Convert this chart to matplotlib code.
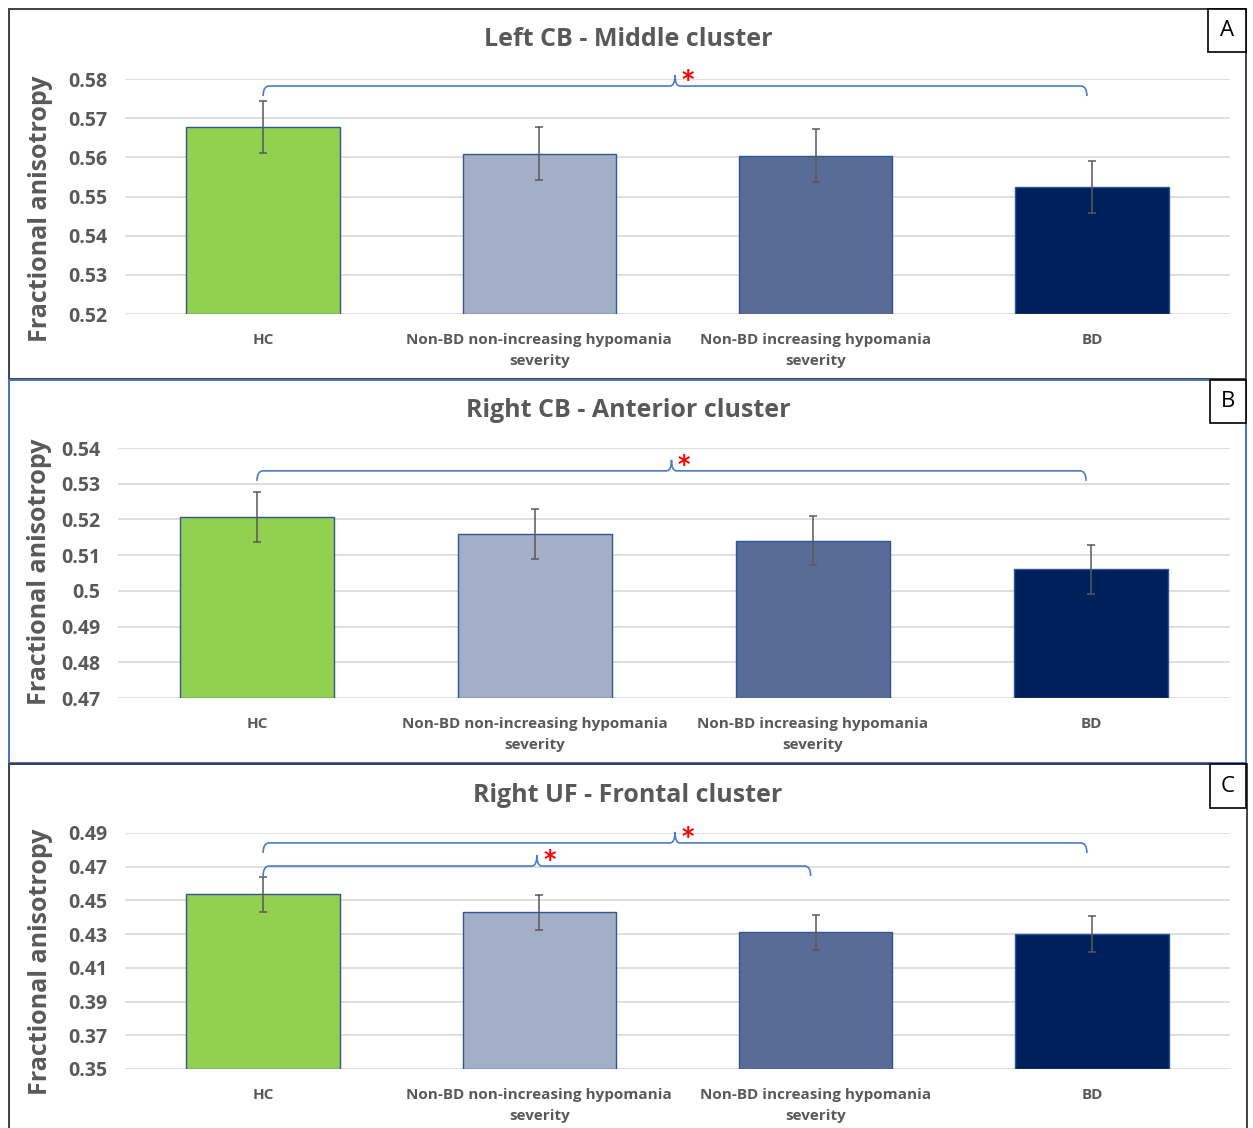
import matplotlib
matplotlib.use("Agg")
import matplotlib.pyplot as plt
from matplotlib.patches import Rectangle, PathPatch
from matplotlib.path import Path
import numpy as np

plt.rcParams['font.family'] = ['Open Sans', 'DejaVu Sans']

# ---------------- data ----------------
categories = ["HC", "Non-BD non-increasing hypomania\nseverity",
              "Non-BD increasing hypomania\nseverity", "BD"]
bar_colors = ["#92D050", "#A2AFC7", "#596C97", "#00205C"]

titles = ["Left CB - Middle cluster", "Right CB - Anterior cluster",
          "Right UF - Frontal cluster"]
panel_letters = ["A", "B", "C"]

means_a = [0.5678, 0.5609, 0.5604, 0.5524]
errs_a = [0.0067, 0.0068, 0.0068, 0.0067]
yticks_a = [0.52, 0.53, 0.54, 0.55, 0.56, 0.57, 0.58]
yticklabels_a = ["0.52", "0.53", "0.54", "0.55", "0.56", "0.57", "0.58"]
sig_a = [(0, 3, 0.5782)]

means_b = [0.5207, 0.5159, 0.5141, 0.5060]
errs_b = [0.0069, 0.0070, 0.0069, 0.0069]
yticks_b = [0.47, 0.48, 0.49, 0.50, 0.51, 0.52, 0.53, 0.54]
yticklabels_b = ["0.47", "0.48", "0.49", "0.5", "0.51", "0.52", "0.53", "0.54"]
sig_b = [(0, 3, 0.5336)]

means_c = [0.4536, 0.4431, 0.4311, 0.4301]
errs_c = [0.0104, 0.0104, 0.0105, 0.0104]
yticks_c = [0.35, 0.37, 0.39, 0.41, 0.43, 0.45, 0.47, 0.49]
yticklabels_c = ["0.35", "0.37", "0.39", "0.41", "0.43", "0.45", "0.47", "0.49"]
sig_c = [(0, 3, 0.4841), (0, 2, 0.4704)]

# ---------------- layout (pixels) ----------------
W, H = 1253, 1128
DPI = 100
fig = plt.figure(figsize=(W / DPI, H / DPI), dpi=DPI)
fig.patch.set_facecolor("white")

def fx(px):
    return px / W

def fy(py):
    return 1 - py / H

GRAY = "#595959"
BRACE = "#4A7CC8"

panels = [
    dict(means=means_a, errs=errs_a, yt=yticks_a, ytl=yticklabels_a, sig=sig_a,
         ax=(125, 1230, 79, 314), box=(9, 1246, 9, 379), boxcol="#404040",
         lab=(1208, 1246, 9, 52), title_y=40, ylab=(41, 209)),
    dict(means=means_b, errs=errs_b, yt=yticks_b, ytl=yticklabels_b, sig=sig_b,
         ax=(118, 1230, 448, 698), box=(9, 1246, 380, 763), boxcol="#4472C4",
         lab=(1210, 1246, 380, 423), title_y=411, ylab=(40, 572)),
    dict(means=means_c, errs=errs_c, yt=yticks_c, ytl=yticklabels_c, sig=sig_c,
         ax=(125, 1230, 833, 1069), box=(9, 1247, 764, 1140), boxcol="#404040",
         lab=(1210, 1246, 764, 808), title_y=795, ylab=(41, 962)),
]

# panel borders first
for p in panels:
    x0, x1, y0, y1 = p["box"]
    fig.patches.append(Rectangle((fx(x0), fy(y1)), fx(x1) - fx(x0), fy(y0) - fy(y1),
                                 transform=fig.transFigure, fill=False,
                                 edgecolor=p["boxcol"], linewidth=1.4, zorder=5))

x = np.arange(len(categories))

def draw_brace(ax, i0, i1, yl):
    # build brace in display (pixel) coordinates, then map to data coordinates
    (px0, pyl) = ax.transData.transform((i0, yl))
    (px1, _) = ax.transData.transform((i1, yl))
    px1 -= 5
    pxm = (px0 + px1) / 2
    h_end, r, w, hp = 10, 6, 5, 11
    verts = [(px0, pyl - h_end), (px0, pyl), (px0 + r, pyl),
             (pxm - w, pyl), (pxm, pyl), (pxm, pyl + hp),
             (pxm, pyl), (pxm + w, pyl),
             (px1 - r, pyl), (px1, pyl), (px1, pyl - h_end)]
    codes = [Path.MOVETO, Path.CURVE3, Path.CURVE3,
             Path.LINETO, Path.CURVE3, Path.CURVE3,
             Path.CURVE3, Path.CURVE3,
             Path.LINETO, Path.CURVE3, Path.CURVE3]
    inv = ax.transData.inverted()
    dverts = inv.transform(np.array(verts))
    patch = PathPatch(Path(dverts, codes), facecolor="none", edgecolor=BRACE,
                      linewidth=1.2, transform=ax.transData, clip_on=False, zorder=6)
    ax.add_patch(patch)
    xm_data = inv.transform((pxm, pyl))[0]
    ax.annotate("*", xy=(xm_data, yl), xytext=(9, 4), textcoords="offset points",
                color="#FF0000", fontsize=17, fontweight="bold",
                ha="center", va="center", family="DejaVu Sans", annotation_clip=False)

for i, p in enumerate(panels):
    l, r_, t, b = p["ax"]
    ax = fig.add_axes([fx(l), fy(b), fx(r_) - fx(l), fy(t) - fy(b)])
    ax.set_xlim(-0.5, len(categories) - 0.5)
    ax.set_ylim(p["yt"][0], p["yt"][-1])
    ax.bar(x, np.array(p["means"]) - p["yt"][0], bottom=p["yt"][0], width=0.555,
           color=bar_colors, edgecolor="#2F5597", linewidth=1.0, zorder=3)
    ax.errorbar(x, p["means"], yerr=p["errs"], fmt="none", ecolor="#595959",
                elinewidth=1.1, capsize=3, capthick=1.1, zorder=4)
    ax.set_yticks(p["yt"])
    ax.set_yticklabels(p["ytl"])
    ax.set_xticks(x)
    ax.set_xticklabels(categories, linespacing=1.6)
    ax.tick_params(axis="y", length=0, pad=13, labelsize=14, labelcolor=GRAY)
    ax.tick_params(axis="x", length=0, pad=14, labelsize=11, labelcolor=GRAY)
    for lab in ax.get_yticklabels() + ax.get_xticklabels():
        lab.set_fontweight("bold")
    ax.yaxis.grid(True, color="#D9D9D9", linewidth=1.2, zorder=0)
    ax.set_axisbelow(True)
    for s in ax.spines.values():
        s.set_visible(False)
    ax.patch.set_alpha(0)

    for (i0, i1, yl) in p["sig"]:
        draw_brace(ax, i0, i1, yl)

    # title
    fig.text(fx(628), fy(p["title_y"]), titles[i], ha="center", va="center",
             fontsize=18, fontweight="bold", color=GRAY)
    # y label
    fig.text(fx(p["ylab"][0]), fy(p["ylab"][1]), "Fractional anisotropy",
             rotation=90, ha="center", va="center", fontsize=18,
             fontweight="bold", color=GRAY)
    # panel letter box
    lx0, lx1, ly0, ly1 = p["lab"]
    fig.patches.append(Rectangle((fx(lx0), fy(ly1)), fx(lx1) - fx(lx0), fy(ly0) - fy(ly1),
                                 transform=fig.transFigure, facecolor="white",
                                 edgecolor="#000000", linewidth=1.2, zorder=6))
    fig.text(fx((lx0 + lx1) / 2), fy((ly0 + ly1) / 2), panel_letters[i],
             ha="center", va="center", fontsize=16, color="black", zorder=7)

fig.savefig("out.png", dpi=DPI)
